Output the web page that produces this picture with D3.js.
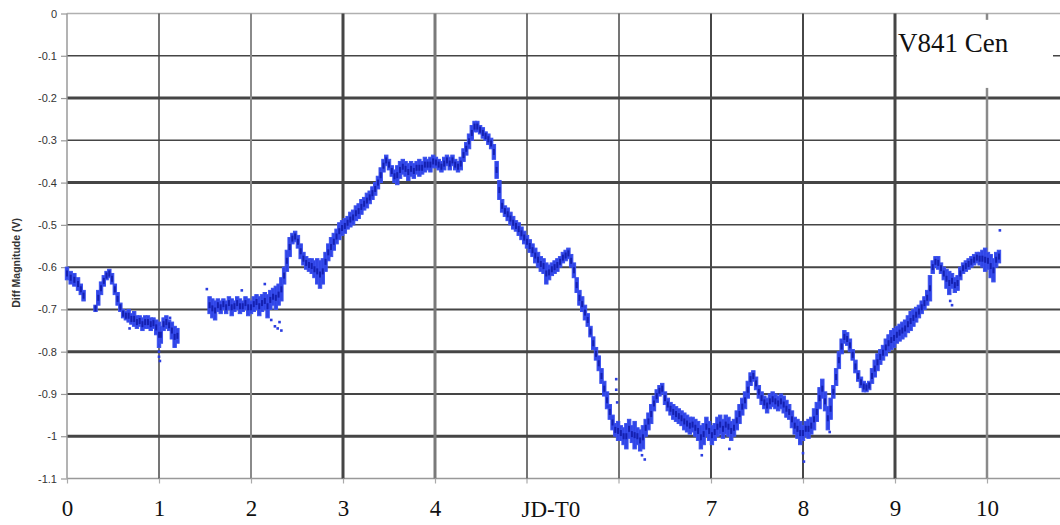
<!DOCTYPE html>
<html>
<head>
<meta charset="utf-8">
<script src="https://cdn.jsdelivr.net/npm/d3@7"></script>
<style>
  html, body { margin: 0; padding: 0; background: #fff; }
  svg { display: block; }
</style>
</head>
<body>
<svg id="chart" width="1060" height="525"></svg>
<script>
// ---------------- data ----------------
const starName = "V841 Cen";
const xTitle = "JD-T0";
const yTitle = "Diff Magnitude (V)";
const xTickValues = [0, 1, 2, 3, 4, 7, 8, 9, 10];
const xGridValues = [0, 1, 2, 3, 4, 5, 6, 7, 8, 9, 10];
const yTickValues = [0, -0.1, -0.2, -0.3, -0.4, -0.5, -0.6, -0.7, -0.8, -0.9, -1, -1.1];

// observation bands: [JD-T0, upper magnitude, lower magnitude]
const bandNight1 = [
  [0.00,-0.600,-0.630],[0.04,-0.610,-0.640],[0.08,-0.615,-0.645],[0.12,-0.625,-0.655],
  [0.15,-0.640,-0.665],[0.18,-0.655,-0.680],
  [0.31,-0.690,-0.705],[0.34,-0.655,-0.690],[0.37,-0.635,-0.665],[0.40,-0.620,-0.645],
  [0.43,-0.610,-0.630],[0.46,-0.605,-0.625],[0.49,-0.615,-0.640],[0.52,-0.640,-0.665],
  [0.55,-0.660,-0.690],[0.58,-0.685,-0.705],[0.61,-0.700,-0.720],[0.64,-0.705,-0.725],
  [0.67,-0.700,-0.730],[0.70,-0.710,-0.735],[0.73,-0.705,-0.740],[0.76,-0.715,-0.745],
  [0.79,-0.715,-0.740],[0.82,-0.720,-0.750],[0.85,-0.715,-0.745],[0.88,-0.715,-0.745],
  [0.91,-0.720,-0.750],[0.94,-0.720,-0.745],[0.97,-0.725,-0.760],[1.00,-0.730,-0.790],
  [1.02,-0.740,-0.780],[1.05,-0.720,-0.750],[1.08,-0.715,-0.745],[1.11,-0.725,-0.750],
  [1.14,-0.730,-0.770],[1.17,-0.740,-0.790],[1.20,-0.745,-0.780]
];
const bandNight2 = [
  [1.55,-0.670,-0.710],[1.58,-0.675,-0.720],[1.61,-0.680,-0.725],[1.64,-0.675,-0.705],
  [1.67,-0.680,-0.710],[1.70,-0.675,-0.700],[1.73,-0.680,-0.710],[1.76,-0.670,-0.700],
  [1.79,-0.675,-0.715],[1.82,-0.680,-0.705],[1.85,-0.670,-0.700],[1.88,-0.675,-0.710],
  [1.91,-0.680,-0.705],[1.94,-0.670,-0.700],[1.97,-0.675,-0.715],[2.00,-0.680,-0.710],
  [2.03,-0.670,-0.705],[2.06,-0.665,-0.700],[2.09,-0.670,-0.715],[2.12,-0.665,-0.705],
  [2.15,-0.660,-0.700],[2.18,-0.665,-0.720],[2.21,-0.655,-0.700],[2.24,-0.650,-0.690],
  [2.27,-0.645,-0.700],[2.30,-0.640,-0.690],[2.33,-0.625,-0.680],[2.36,-0.600,-0.640],
  [2.39,-0.560,-0.610],[2.42,-0.530,-0.575],[2.45,-0.520,-0.545],[2.48,-0.515,-0.540],
  [2.51,-0.525,-0.555],[2.54,-0.545,-0.580],[2.57,-0.565,-0.595],[2.60,-0.575,-0.605],
  [2.63,-0.580,-0.610],[2.66,-0.580,-0.615],[2.69,-0.585,-0.625],[2.72,-0.580,-0.640],
  [2.75,-0.585,-0.650],[2.78,-0.580,-0.640],[2.81,-0.565,-0.610],[2.84,-0.545,-0.585],
  [2.87,-0.530,-0.575],[2.90,-0.520,-0.560],[2.93,-0.510,-0.545],[2.96,-0.495,-0.535],
  [2.99,-0.490,-0.525],[3.02,-0.485,-0.520],[3.05,-0.480,-0.510],[3.08,-0.470,-0.505],
  [3.11,-0.465,-0.500],[3.14,-0.455,-0.490],[3.17,-0.450,-0.485],[3.20,-0.440,-0.475],
  [3.23,-0.435,-0.465],[3.26,-0.425,-0.460],[3.29,-0.420,-0.450],[3.32,-0.410,-0.440],
  [3.35,-0.400,-0.430],[3.38,-0.385,-0.415],[3.41,-0.365,-0.400],[3.44,-0.345,-0.375],
  [3.47,-0.335,-0.360],[3.50,-0.345,-0.370],[3.53,-0.360,-0.385],[3.56,-0.370,-0.400],
  [3.59,-0.360,-0.405],[3.62,-0.350,-0.390],[3.65,-0.345,-0.380],[3.68,-0.350,-0.385],
  [3.71,-0.355,-0.395],[3.74,-0.350,-0.385],[3.77,-0.355,-0.390],[3.80,-0.350,-0.380],
  [3.83,-0.345,-0.385],[3.86,-0.350,-0.380],[3.89,-0.340,-0.375],[3.92,-0.345,-0.370],
  [3.95,-0.340,-0.375],[3.98,-0.335,-0.365],[4.01,-0.340,-0.365],[4.04,-0.345,-0.370],
  [4.07,-0.350,-0.375],[4.10,-0.340,-0.370],[4.13,-0.335,-0.360],[4.16,-0.340,-0.370],
  [4.19,-0.335,-0.360],[4.22,-0.345,-0.370],[4.25,-0.350,-0.375],[4.28,-0.340,-0.370],
  [4.31,-0.320,-0.350],[4.34,-0.305,-0.335],[4.37,-0.285,-0.320],[4.40,-0.265,-0.300],
  [4.43,-0.255,-0.280],[4.46,-0.255,-0.280],[4.49,-0.265,-0.285],[4.52,-0.270,-0.295],
  [4.55,-0.280,-0.300],[4.58,-0.285,-0.310],[4.61,-0.295,-0.320],[4.64,-0.310,-0.345],
  [4.67,-0.350,-0.390],[4.70,-0.395,-0.440],[4.73,-0.440,-0.470],[4.76,-0.455,-0.480],
  [4.79,-0.460,-0.490],[4.82,-0.470,-0.500],[4.85,-0.480,-0.510],[4.88,-0.490,-0.515],
  [4.91,-0.495,-0.525],[4.94,-0.505,-0.535],[4.97,-0.515,-0.545],[5.00,-0.525,-0.555],
  [5.03,-0.535,-0.565],[5.06,-0.545,-0.575],[5.09,-0.555,-0.590],[5.12,-0.565,-0.600],
  [5.15,-0.575,-0.610],[5.18,-0.580,-0.615],[5.21,-0.590,-0.640],[5.24,-0.595,-0.630],
  [5.27,-0.590,-0.620],[5.30,-0.585,-0.615],[5.33,-0.580,-0.610],[5.36,-0.575,-0.600],
  [5.39,-0.565,-0.590],[5.42,-0.560,-0.585],[5.45,-0.555,-0.580],[5.48,-0.570,-0.600],
  [5.51,-0.590,-0.625],[5.54,-0.625,-0.660],[5.57,-0.655,-0.690],[5.60,-0.670,-0.705],
  [5.63,-0.690,-0.725],[5.66,-0.710,-0.740],[5.69,-0.740,-0.765],[5.72,-0.765,-0.795],
  [5.75,-0.790,-0.820],[5.78,-0.810,-0.845],[5.81,-0.840,-0.875],[5.84,-0.870,-0.905],
  [5.87,-0.895,-0.935],[5.90,-0.925,-0.960],[5.93,-0.950,-0.985],[5.96,-0.970,-1.000],
  [5.99,-0.965,-1.010],[6.02,-0.975,-1.010],[6.05,-0.980,-1.020],[6.08,-0.970,-1.030],
  [6.11,-0.960,-1.005],[6.14,-0.975,-1.015],[6.17,-0.965,-1.030],[6.20,-0.980,-1.020],
  [6.23,-0.985,-1.035],[6.26,-0.975,-1.030],[6.29,-0.960,-1.000],[6.32,-0.945,-0.985],
  [6.35,-0.925,-0.970],[6.38,-0.905,-0.940],[6.41,-0.890,-0.920],[6.44,-0.880,-0.905],
  [6.47,-0.875,-0.900],[6.50,-0.895,-0.925],[6.53,-0.910,-0.940],[6.56,-0.920,-0.950],
  [6.59,-0.925,-0.960],[6.62,-0.930,-0.965],[6.65,-0.935,-0.970],[6.68,-0.940,-0.975],
  [6.71,-0.945,-0.985],[6.74,-0.950,-0.990],[6.77,-0.955,-0.995],[6.80,-0.955,-0.990],
  [6.83,-0.960,-1.000],[6.86,-0.965,-1.010],[6.89,-0.975,-1.030],[6.92,-0.970,-1.020],
  [6.95,-0.955,-1.000],[6.98,-0.965,-1.010],[7.01,-0.975,-1.020],[7.04,-0.970,-1.010],
  [7.07,-0.955,-1.000],[7.10,-0.950,-0.995],[7.13,-0.960,-1.005],[7.16,-0.950,-0.995],
  [7.19,-0.955,-1.000],[7.22,-0.965,-1.010],[7.25,-0.960,-1.000],[7.28,-0.940,-0.985],
  [7.31,-0.925,-0.970],[7.34,-0.910,-0.950],[7.37,-0.895,-0.935],[7.40,-0.870,-0.910],
  [7.43,-0.850,-0.880],[7.46,-0.845,-0.870],[7.49,-0.860,-0.890],[7.52,-0.880,-0.910],
  [7.55,-0.895,-0.925],[7.58,-0.905,-0.935],[7.61,-0.910,-0.945],[7.64,-0.900,-0.935],
  [7.67,-0.895,-0.930],[7.70,-0.900,-0.935],[7.73,-0.905,-0.940],[7.76,-0.900,-0.935],
  [7.79,-0.905,-0.945],[7.82,-0.915,-0.955],[7.85,-0.925,-0.960],[7.88,-0.940,-0.980],
  [7.91,-0.955,-0.995],[7.94,-0.960,-1.005],[7.97,-0.965,-1.020],[8.00,-0.975,-1.010],
  [8.03,-0.965,-1.000],[8.06,-0.960,-1.005],[8.09,-0.955,-0.995],[8.12,-0.935,-0.985],
  [8.15,-0.920,-0.965],[8.18,-0.885,-0.935],[8.21,-0.865,-0.910],[8.24,-0.895,-0.940],
  [8.27,-0.930,-0.985],[8.30,-0.910,-0.960],[8.33,-0.880,-0.910],[8.36,-0.840,-0.880],
  [8.39,-0.800,-0.840],[8.42,-0.770,-0.805],[8.45,-0.750,-0.780],[8.48,-0.755,-0.785],
  [8.51,-0.770,-0.800],[8.54,-0.795,-0.820],[8.57,-0.820,-0.850],[8.60,-0.845,-0.870],
  [8.63,-0.860,-0.885],[8.66,-0.870,-0.895],[8.69,-0.875,-0.895],[8.72,-0.870,-0.890],
  [8.75,-0.840,-0.875],[8.78,-0.820,-0.860],[8.81,-0.805,-0.845],[8.84,-0.795,-0.830],
  [8.87,-0.785,-0.820],[8.90,-0.770,-0.810],[8.93,-0.760,-0.800],[8.96,-0.750,-0.795],
  [8.99,-0.745,-0.790],[9.02,-0.740,-0.780],[9.05,-0.735,-0.775],[9.08,-0.730,-0.770],
  [9.11,-0.725,-0.765],[9.14,-0.715,-0.755],[9.17,-0.705,-0.750],[9.20,-0.700,-0.740],
  [9.23,-0.695,-0.730],[9.26,-0.690,-0.720],[9.29,-0.680,-0.710],[9.32,-0.670,-0.700],
  [9.35,-0.655,-0.690],[9.38,-0.620,-0.680],[9.41,-0.585,-0.615],[9.44,-0.575,-0.600],
  [9.47,-0.575,-0.605],[9.50,-0.590,-0.615],[9.53,-0.600,-0.630],[9.56,-0.605,-0.650],
  [9.59,-0.610,-0.665],[9.62,-0.615,-0.650],[9.65,-0.625,-0.660],[9.68,-0.620,-0.655],
  [9.71,-0.600,-0.630],[9.74,-0.590,-0.615],[9.77,-0.585,-0.610],[9.80,-0.580,-0.605],
  [9.83,-0.575,-0.600],[9.86,-0.570,-0.595],[9.89,-0.565,-0.590],[9.92,-0.565,-0.595],
  [9.95,-0.560,-0.600],[9.98,-0.555,-0.610],[10.01,-0.565,-0.605],[10.04,-0.570,-0.625],
  [10.07,-0.580,-0.635],[10.10,-0.565,-0.600],[10.13,-0.560,-0.590]
];
// isolated points: [JD-T0, magnitude]
const loosePoints = [
  [0.68,-0.745],[1.00,-0.800],[1.00,-0.812],[1.01,-0.822],[1.12,-0.720],
  [1.52,-0.652],[1.90,-0.655],[2.15,-0.640],[2.22,-0.725],[2.26,-0.740],[2.29,-0.745],
  [2.31,-0.730],[2.33,-0.750],[5.88,-0.930],[5.97,-0.865],[5.97,-0.890],[5.98,-0.920],
  [6.25,-1.045],[6.28,-1.055],[6.90,-1.045],[7.20,-1.030],[8.00,-1.040],[8.01,-1.060],
  [8.29,-0.990],[9.60,-0.680],[9.62,-0.690],[10.14,-0.513]
];

// ---------------- drawing ----------------
const svg = d3.select("#chart");
const x = d3.scaleLinear().domain([0, 10.8]).range([67, 1060.6]);
const y = d3.scaleLinear().domain([-1.1, 0]).range([478.5, 13.5]);

// grid line looks (styling only)
const hWidth = [1.5, 1.5, 3, 1.5, 3, 1.5, 2, 2, 3, 2, 3, 1.5];
const hColor = i => (i === 0 ? "#b0b0b0" : i === 11 ? "#999" : "#454545");
const vWidth = [1.5, 1.5, 2, 3, 3, 1.5, 1.5, 2, 2, 3, 2.5];
const vColor = ["#9a9a9a", "#474747", "#8a8a8a", "#454545", "#7a7a7a", "#474747",
                "#474747", "#474747", "#474747", "#454545", "#8a8a8a"];

const grid = svg.append("g");
grid.selectAll("line.h").data(yTickValues).join("line")
  .attr("class", "h")
  .attr("x1", x(0)).attr("x2", 1060)
  .attr("y1", d => y(d)).attr("y2", d => y(d))
  .attr("stroke", (d, i) => hColor(i))
  .attr("stroke-width", (d, i) => hWidth[i]);
grid.selectAll("line.v").data(xGridValues).join("line")
  .attr("class", "v")
  .attr("x1", d => x(d)).attr("x2", d => x(d))
  .attr("y1", y(0)).attr("y2", y(-1.1))
  .attr("stroke", (d, i) => vColor[i])
  .attr("stroke-width", (d, i) => vWidth[i]);

// label box for the star name
svg.append("rect")
  .attr("x", x(9) + 2).attr("y", y(-0.015))
  .attr("width", 1053 - x(9) - 2).attr("height", y(-0.176) - y(-0.015))
  .attr("fill", "#fff");
svg.append("text")
  .attr("x", x(9) + 3).attr("y", y(-0.092))
  .attr("font-family", "'Liberation Serif', 'Times New Roman', serif")
  .attr("font-size", 27).attr("fill", "#111")
  .text(starName);

// y axis
const yAxis = d3.axisLeft(y).tickValues(yTickValues).tickSize(6).tickPadding(4)
  .tickFormat(d => d === 0 ? "0" : String(+d.toFixed(1)));
const gy = svg.append("g").attr("transform", `translate(${x(0)},0)`).call(yAxis);
gy.select(".domain").remove();
gy.selectAll(".tick line").attr("stroke", "#999").attr("stroke-width", 1.2);
gy.selectAll(".tick text")
  .attr("font-family", "'Liberation Sans', Arial, sans-serif")
  .attr("font-size", 11).attr("fill", "#333");

svg.append("text")
  .attr("transform", `translate(20,${y(-0.59)}) rotate(-90)`)
  .attr("text-anchor", "middle")
  .attr("font-family", "'Liberation Sans', Arial, sans-serif")
  .attr("font-size", 10.5).attr("font-weight", "bold").attr("fill", "#333")
  .text(yTitle);

// x axis
const xAxis = d3.axisBottom(x).tickValues(xTickValues).tickSize(5).tickPadding(16)
  .tickFormat(d3.format("d"));
const gx = svg.append("g").attr("transform", `translate(0,${y(-1.1)})`).call(xAxis);
gx.select(".domain").remove();
gx.selectAll(".tick line").attr("stroke", "#aaa").attr("stroke-width", 1.2);
gx.selectAll(".tick text")
  .attr("font-family", "'Liberation Serif', 'Times New Roman', serif")
  .attr("font-size", 23).attr("fill", "#111");
// small tick marks at 5 and 6 as well
svg.selectAll("line.xt").data([5, 6]).join("line")
  .attr("class", "xt")
  .attr("x1", d => x(d)).attr("x2", d => x(d))
  .attr("y1", y(-1.1)).attr("y2", y(-1.1) + 5)
  .attr("stroke", "#aaa").attr("stroke-width", 1.2);
svg.append("text")
  .attr("x", x(5.26)).attr("y", 516.5)
  .attr("text-anchor", "middle")
  .attr("font-family", "'Liberation Serif', 'Times New Roman', serif")
  .attr("font-size", 23).attr("fill", "#111")
  .text(xTitle);

// observations
const pts = svg.append("g");
const bands = bandNight1.concat(bandNight2);
pts.selectAll("rect.b").data(bands).join("rect")
  .attr("class", "b")
  .attr("x", d => x(d[0]) - 1.7).attr("width", 3.4)
  .attr("y", d => y(d[1])).attr("height", d => y(d[2]) - y(d[1]))
  .attr("fill", "#3045e6")
  .attr("stroke", "#3a50ee").attr("stroke-width", 1);
pts.selectAll("rect.c").data(bands).join("rect")
  .attr("class", "c")
  .attr("x", d => x(d[0]) - 1).attr("width", 2)
  .attr("y", d => y((d[1] + d[2]) / 2) - 3).attr("height", 6)
  .attr("fill", "#1420b0");
pts.selectAll("rect.p").data(loosePoints).join("rect")
  .attr("class", "p")
  .attr("x", d => x(d[0]) - 1.3).attr("width", 2.6)
  .attr("y", d => y(d[1]) - 1.3).attr("height", 2.6)
  .attr("fill", "#2b3de0");
</script>
</body>
</html>
